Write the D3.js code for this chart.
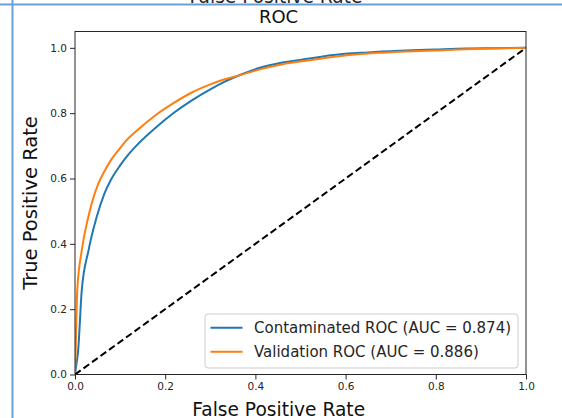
<!DOCTYPE html>
<html>
<head>
<meta charset="utf-8">
<script src="https://cdn.jsdelivr.net/npm/d3@7"></script>
<style>
  html, body { margin: 0; padding: 0; background: #fff; }
  svg { display: block; font-family: "DejaVu Sans", sans-serif; }
</style>
</head>
<body>
<svg id="chart" width="562" height="418"></svg>
<script>
// ROC curve points (false positive rate, true positive rate)
const contaminatedFpr = [0, 0.002, 0.007, 0.015, 0.03, 0.048, 0.065, 0.08, 0.1, 0.12, 0.14, 0.18, 0.22, 0.26, 0.3, 0.33, 0.37, 0.41, 0.46, 0.52, 0.573, 0.65, 0.72, 0.8, 0.868, 0.93, 1.0];
const contaminatedTpr = [0, 0.02, 0.074, 0.258, 0.38, 0.482, 0.553, 0.597, 0.640, 0.676, 0.706, 0.757, 0.802, 0.840, 0.873, 0.895, 0.919, 0.939, 0.955, 0.967, 0.978, 0.986, 0.991, 0.995, 0.998, 0.999, 1.0];

const validationFpr = [0, 0.0015, 0.005, 0.015, 0.0295, 0.0517, 0.0665, 0.08, 0.096, 0.111, 0.14, 0.18, 0.22, 0.26, 0.3, 0.33, 0.37, 0.41, 0.46, 0.52, 0.573, 0.65, 0.72, 0.8, 0.868, 0.93, 1.0];
const validationTpr = [0, 0.074, 0.258, 0.38, 0.482, 0.584, 0.625, 0.657, 0.686, 0.712, 0.750, 0.795, 0.832, 0.864, 0.888, 0.903, 0.918, 0.934, 0.950, 0.962, 0.973, 0.983, 0.988, 0.992, 0.996, 0.998, 1.0];

const chanceLine = [0, 1];

const seriesNames = ["Contaminated ROC (AUC = 0.874)", "Validation ROC (AUC = 0.886)"];
const seriesColors = ["#1f77b4", "#ff7f0e"];
const tickValues = [0, 0.2, 0.4, 0.6, 0.8, 1.0];

const svg = d3.select("#chart");

// Frame lines of the surrounding panel
svg.append("text")
  .attr("x", 276).attr("y", 2.5)
  .attr("text-anchor", "middle")
  .attr("font-size", 18.6)
  .attr("fill", "#262626")
  .text("False Positive Rate");
svg.append("line")
  .attr("x1", 0).attr("x2", 562).attr("y1", 4.5).attr("y2", 4.5)
  .attr("stroke", "#6a9fd6").attr("stroke-width", 2);
svg.append("line")
  .attr("x1", 12.5).attr("x2", 12.5).attr("y1", 0).attr("y2", 418)
  .attr("stroke", "#6a9fd6").attr("stroke-width", 2);

const plotLeft = 75, plotRight = 526, plotTop = 31.5, plotBottom = 374.5;
const x = d3.scaleLinear().domain([0, 1]).range([plotLeft, plotRight]);
const y = d3.scaleLinear().domain([0, 1.05]).range([plotBottom, plotTop]);

// Axes
const xAxis = d3.axisBottom(x).tickValues(tickValues).tickFormat(d3.format(".1f")).tickSize(5).tickPadding(3);
const yAxis = d3.axisLeft(y).tickValues(tickValues).tickFormat(d3.format(".1f")).tickSize(5).tickPadding(3);

const gx = svg.append("g").attr("transform", `translate(0,${plotBottom})`).call(xAxis);
const gy = svg.append("g").attr("transform", `translate(${plotLeft},0)`).call(yAxis);
[gx, gy].forEach(g => {
  g.select(".domain").remove();
  g.selectAll("text").attr("font-size", 10.5).attr("fill", "#262626").attr("font-family", "DejaVu Sans");
  g.selectAll("line").attr("stroke", "#262626");
});

// Curves
const line = d3.line().x(d => x(d[0])).y(d => y(d[1])).curve(d3.curveMonotoneX);
const series = [
  d3.zip(contaminatedFpr, contaminatedTpr),
  d3.zip(validationFpr, validationTpr)
];
svg.append("clipPath").attr("id", "plot-clip")
  .append("rect").attr("x", plotLeft).attr("y", plotTop)
  .attr("width", plotRight - plotLeft).attr("height", plotBottom - plotTop);

const plot = svg.append("g").attr("clip-path", "url(#plot-clip)");
series.forEach((pts, i) => {
  plot.append("path")
    .attr("d", line(pts))
    .attr("fill", "none")
    .attr("stroke", seriesColors[i])
    .attr("stroke-width", 2);
});
plot.append("path")
  .attr("d", d3.line().x(d => x(d)).y(d => y(d))(chanceLine))
  .attr("fill", "none")
  .attr("stroke", "#000")
  .attr("stroke-width", 2)
  .attr("stroke-dasharray", "7,3.5");

// Plot frame
svg.append("rect")
  .attr("x", plotLeft).attr("y", plotTop)
  .attr("width", plotRight - plotLeft).attr("height", plotBottom - plotTop)
  .attr("fill", "none").attr("stroke", "#262626").attr("stroke-width", 1);

// Title and axis labels
svg.append("text")
  .attr("x", 278.5).attr("y", 23)
  .attr("text-anchor", "middle")
  .attr("font-size", 18)
  .attr("fill", "#111")
  .text("ROC");
svg.append("text")
  .attr("x", 278.7).attr("y", 416)
  .attr("text-anchor", "middle")
  .attr("font-size", 18.6)
  .attr("fill", "#111")
  .text("False Positive Rate");
svg.append("text")
  .attr("transform", `translate(37,${(plotTop + plotBottom) / 2}) rotate(-90)`)
  .attr("text-anchor", "middle")
  .attr("font-size", 19.5)
  .attr("fill", "#111")
  .text("True Positive Rate");

// Legend
const legend = svg.append("g");
legend.append("rect")
  .attr("x", 205).attr("y", 314).attr("width", 313).attr("height", 54)
  .attr("rx", 3).attr("fill", "#fff").attr("fill-opacity", 0.8)
  .attr("stroke", "#cccccc").attr("stroke-width", 1);
seriesNames.forEach((name, i) => {
  const cy = 327.7 + i * 24;
  legend.append("line")
    .attr("x1", 210.5).attr("x2", 242.5).attr("y1", cy).attr("y2", cy)
    .attr("stroke", seriesColors[i]).attr("stroke-width", 2);
  legend.append("text")
    .attr("x", 254).attr("y", cy + 5.6)
    .attr("font-size", 15)
    .attr("fill", "#262626")
    .text(name);
});
</script>
</body>
</html>
